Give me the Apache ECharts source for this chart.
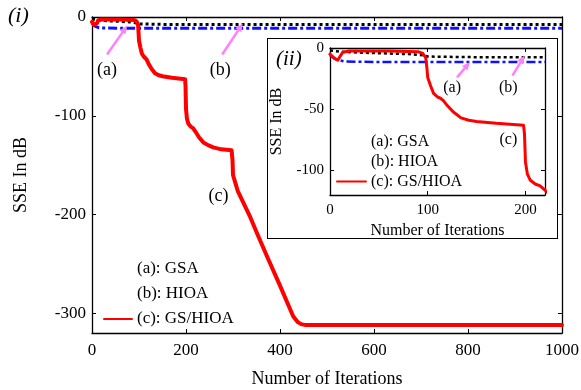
<!DOCTYPE html>
<html>
<head>
<meta charset="utf-8">
<script src="https://cdn.jsdelivr.net/npm/echarts@6/dist/echarts.min.js"></script>
<style>
  html, body { margin: 0; padding: 0; background: #fff; }
  #main { position: absolute; left: 0; top: 0; width: 581px; height: 390px; }
  #inset { position: absolute; left: 267px; top: 38px; width: 289px; height: 199px;
           background: #fff; border: 1.5px solid #000; }
</style>
</head>
<body>
<div id="main"></div>
<div id="inset"></div>
<script>
// Convergence of the sum of squared errors (dB) versus iteration
const names = ['(a): GSA', '(b): HIOA', '(c): GS/HIOA'];

const gsaIter = [0, 10, 40, 80, 95, 100, 150, 220, 1000];
const gsaVal  = [-2, -3, -4, -5, -6, -7, -7.5, -7.5, -7.5];

const hioaIter = [0, 5, 15, 60, 220, 1000];
const hioaVal  = [-6, -9, -11, -11.5, -11.5, -11.5];

const gshioaIter = [0, 4, 8, 11, 13, 20, 60, 90, 95, 98, 99, 100, 103, 106, 110, 113, 116, 120, 126, 134, 142, 150, 170, 198,
                    199, 200, 202, 205, 210, 215, 220, 228, 237, 248, 258, 275, 297, 299, 300, 305, 310, 337, 352, 373,
                    400, 428, 438, 445, 455, 600, 800, 1000];
const gshioaVal  = [-5, -8, -10, -6, -3.5, -2.5, -2.5, -3, -4.5, -8, -15, -24, -31, -37, -40, -41, -43, -47, -52, -57, -59, -60, -61.5, -63,
                    -70, -93, -103, -108, -111, -112.5, -116, -122, -127, -130, -132, -134, -135, -145, -160, -168, -176, -203, -220, -243,
                    -272, -303, -309, -311, -312, -312, -312, -312];

const mainXTicks = [0, 200, 400, 600, 800, 1000];
const mainYTicks = [-300, -200, -100, 0];
const insetXTicks = [0, 100, 200];
const insetYTicks = [-100, -50, 0];

// annotation arrows: [tail, head] in data units, plus label anchors
const mainArrows = [[[32, -38], [70, -12]], [[277, -38], [316, -10]]];
const mainLabels = [['(a)', 32, -54], ['(b)', 273, -54], ['(c)', 269, -182]];
const insetArrows = [[[130, -24], [140.5, -14]], [[186.7, -22.5], [197, -9]]];
const insetLabels = [['(a)', 125, -32.5], ['(b)', 182.5, -32.5], ['(c)', 182.5, -75]];

const zip = (xs, ys) => xs.map((x, i) => [x, ys[i]]);
const FONT = 'Liberation Serif';
const ARROW = '#ff80ff';

function seriesSet(redWidth, dotWidth, arrows, xmax) {
  const clip = d => d.filter(p => p[0] <= xmax + 20);
  return [
    { name: names[1], type: 'line', data: clip(zip(hioaIter, hioaVal)), showSymbol: false, symbol: 'none',
      lineStyle: { color: '#1010ff', width: dotWidth, type: [9, 3, 3, 3] }, itemStyle: { color: '#1010ff' }, z: 2,
      markLine: { silent: true, symbol: ['none', 'triangle'], symbolSize: [7, 8], symbolOffset: 0,
        lineStyle: { color: ARROW, width: 2.5, type: 'solid' }, label: { show: false },
        data: arrows.map(a => [{ coord: a[0] }, { coord: a[1] }]) } },
    { name: names[0], type: 'line', data: clip(zip(gsaIter, gsaVal)), showSymbol: false, symbol: 'none',
      lineStyle: { color: '#000', width: dotWidth, type: [3, 3] }, itemStyle: { color: '#000' }, z: 3 },
    { name: names[2], type: 'line', data: clip(zip(gshioaIter, gshioaVal)), showSymbol: false, symbol: 'none',
      lineStyle: { color: '#ff0000', width: redWidth, join: 'round', cap: 'round' }, itemStyle: { color: '#ff0000' }, z: 4 }
  ];
}

function axesPair(min, max, ticks, fontSize, name, nameGap, isY, margin) {
  const base = {
    type: 'value', min: min, max: max,
    axisLine: { show: true, onZero: false, lineStyle: { color: '#000', width: 1.3 } },
    axisTick: { show: true, inside: true, length: 4, customValues: ticks, lineStyle: { color: '#000', width: 1 } },
    splitLine: { show: false }
  };
  const primary = Object.assign({}, base, {
    position: isY ? 'left' : 'bottom',
    name: name, nameLocation: 'middle', nameGap: nameGap,
    nameTextStyle: { fontFamily: FONT, fontSize: fontSize + 1, color: '#000' },
    axisLabel: { show: true, customValues: ticks, fontFamily: FONT, fontSize: fontSize, color: '#000', margin: margin,
      formatter: v => String(v) }
  });
  const mirror = Object.assign({}, base, {
    position: isY ? 'right' : 'top',
    axisLabel: { show: false }
  });
  return [primary, mirror];
}

function legendData() {
  return [
    { name: names[0], itemStyle: { opacity: 0 }, lineStyle: { opacity: 0 } },
    { name: names[1], itemStyle: { opacity: 0 }, lineStyle: { opacity: 0 } },
    { name: names[2], itemStyle: { opacity: 0 } }
  ];
}

const main = echarts.init(document.getElementById('main'), null, { renderer: 'canvas' });
main.setOption({
  animation: false,
  grid: { left: 92, top: 17, right: 19, bottom: 57, containLabel: false, outerBoundsMode: 'none' },
  xAxis: axesPair(0, 1000, mainXTicks, 17, 'Number of Iterations', 37, false, 9),
  yAxis: axesPair(-320, 0, mainYTicks, 17, 'SSE In dB', 62, true, 6),
  legend: {
    orient: 'vertical', left: 98, top: 254, itemWidth: 28, itemHeight: 14, itemGap: 5,
    textStyle: { fontFamily: FONT, fontSize: 17, color: '#000', lineHeight: 20 },
    data: legendData()
  },
  series: seriesSet(4, 3, mainArrows, 1000),
  graphic: [
    { type: 'text', left: 8, top: 5, style: { text: '(i)', font: 'italic 22px "Liberation Serif"', fill: '#000' } }
  ]
});

const inset = echarts.init(document.getElementById('inset'), null, { renderer: 'canvas' });
inset.setOption({
  animation: false,
  grid: { left: 62, top: 9, right: 12, bottom: 43, containLabel: false, outerBoundsMode: 'none' },
  xAxis: axesPair(0, 220, insetXTicks, 15, 'Number of Iterations', 24, false, 8),
  yAxis: axesPair(-120, 0, insetYTicks, 15, 'SSE In dB', 45, true, 6),
  legend: {
    orient: 'vertical', left: 63, top: 89, itemWidth: 29, itemHeight: 12, itemGap: 3,
    textStyle: { fontFamily: FONT, fontSize: 16, color: '#000', lineHeight: 17 },
    data: legendData()
  },
  series: seriesSet(3, 2.5, insetArrows, 220),
  graphic: [
    { type: 'text', left: 8, top: 10, style: { text: '(ii)', font: 'italic 21px "Liberation Serif"', fill: '#000' } }
  ]
});

// text labels for the annotated curves, positioned through each chart's scales
function placeLabels(chart, labels, size) {
  const g = labels.map(l => {
    const p = chart.convertToPixel({ gridIndex: 0 }, [l[1], l[2]]);
    return { type: 'text', x: p[0], y: p[1], z: 10,
      style: { text: l[0], font: size + 'px "Liberation Serif"', fill: '#000', align: 'center', verticalAlign: 'middle' } };
  });
  const existing = chart.getOption().graphic[0].elements;
  chart.setOption({ graphic: existing.concat(g) });
}
placeLabels(main, mainLabels, 18);
placeLabels(inset, insetLabels, 16);
</script>
</body>
</html>
